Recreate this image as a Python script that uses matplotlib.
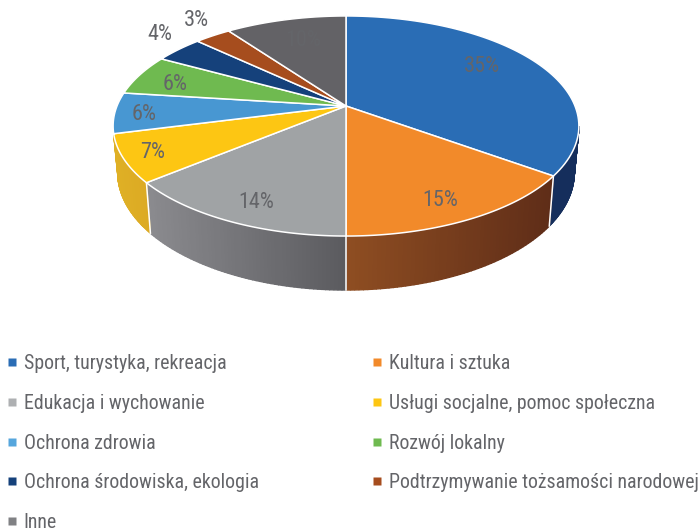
import numpy as np
import matplotlib
import matplotlib.pyplot as plt
from matplotlib.lines import Line2D
from matplotlib.colors import to_rgb

matplotlib.use("Agg")

plt.rcParams["font.family"] = ["Roboto Condensed", "Roboto", "DejaVu Sans"]

categories = [
    "Sport, turystyka, rekreacja", "Kultura i sztuka", "Edukacja i wychowanie",
    "Usługi socjalne, pomoc społeczna", "Ochrona zdrowia", "Rozwój lokalny",
    "Ochrona środowiska, ekologia", "Podtrzymywanie tożsamości narodowej", "Inne",
]
values = [35, 15, 14, 7, 6, 6, 4, 3, 10]

top_colors = ["#2a6db5", "#f28a2a", "#a0a3a5", "#fdc613", "#4897d2",
              "#6fba50", "#15417b", "#a64d1e", "#636266"]
legend_colors = ["#2a6db5", "#f28a2a", "#aeb0b2", "#fdc613", "#56a6dd",
                 "#6fba50", "#15417b", "#a64d1e", "#808184"]
# wall colour at the left and right end of each visible side face
wall_colors = {
    0: ("#152e5c", "#152e5c"),
    1: ("#8f4e22", "#5f2d18"),
    2: ("#8b8b8f", "#5b5b5f"),
    3: ("#dfb025", "#dcaa24"),
}
label_xy = [(482, 67), (440, 201), (256, 203), (153, 152), (144, 114),
            (175, 84), (160, 35), (196, 21), (303, 40)]
TEXT = "#646569"

# tilted disc: unit circle seen in perspective, apex is not the ellipse centre
APEX_X, APEX_Y = 346, 106
A, B, K = 229, 106.4, 0.1818


def top_rim(theta):
    x, y = np.sin(theta), np.cos(theta)
    d = 1 + K * y
    return APEX_X + A * x / d, APEX_Y - B * y / d


def bottom_rim(theta):
    x, y = np.sin(theta), np.cos(theta)
    d = 1 + K * y
    return APEX_X + 0.98 * A * x / d, APEX_Y - 1.066 * B * y / d + 45.4


def draw_wall(ax, start, end, left, right):
    """Side face between two angles, cut in thin strips for the gradient."""
    edges = np.linspace(start, end, 61)
    xs = top_rim(edges)[0]
    c_left, c_right = np.array(to_rgb(left)), np.array(to_rgb(right))
    for t0, t1, x0 in zip(edges[:-1], edges[1:], xs[:-1]):
        f = np.clip((x0 - xs.min()) / max(xs.max() - xs.min(), 1), 0, 1)
        col = c_left + (c_right - c_left) * f
        t = np.array([t0, t1])
        tx, ty = top_rim(t)
        bx, by = bottom_rim(t[::-1])
        ax.fill(np.r_[tx, bx], np.r_[ty, by], color=col, lw=1.0, zorder=2)


fig = plt.figure(figsize=(6.99, 5.29), dpi=100)
ax = fig.add_axes([0, 0, 1, 1])
ax.set_xlim(0, 699)
ax.set_ylim(529, 0)
ax.axis("off")

bounds = np.radians(np.r_[0, np.cumsum(values)] * 3.6)

# side faces, only the front ones can be seen
for i, (left, right) in wall_colors.items():
    t0, t1 = bounds[i], bounds[i + 1]
    if i == 0:
        t0 = np.radians(100.5)
    draw_wall(ax, t0, t1, left, right)
for t in bounds[1:4]:
    tx, ty = top_rim(t)
    bx, by = bottom_rim(t)
    ax.plot([tx, bx], [ty, by], color="white", lw=1.1, zorder=3)

# top face
for i, col in enumerate(top_colors):
    t = np.linspace(bounds[i], bounds[i + 1], 80)
    rx, ry = top_rim(t)
    ax.fill(np.r_[APEX_X, rx], np.r_[APEX_Y, ry], facecolor=col,
            edgecolor="white", lw=1.1, joinstyle="round", zorder=4)

for val, (lx, ly) in zip(values, label_xy):
    ax.text(lx, ly, f"{val}%", color=TEXT, fontsize=16, ha="center", va="center", zorder=5)

# legend fills by column, the reference reads by row
order = [0, 2, 4, 6, 8, 1, 3, 5, 7]
handles = [Line2D([0], [0], ls="none", marker="s", ms=5.5, mec="none", color=legend_colors[i])
           for i in order]
ax.legend(handles, [categories[i] for i in order], ncol=2, frameon=False,
          loc="upper left", bbox_to_anchor=(0.010, 0.330), borderaxespad=0, borderpad=0,
          fontsize=14.3, labelcolor=TEXT, labelspacing=1.04, columnspacing=5.7,
          handlelength=0.5, handletextpad=0.35)

fig.savefig("out.png", dpi=100)
